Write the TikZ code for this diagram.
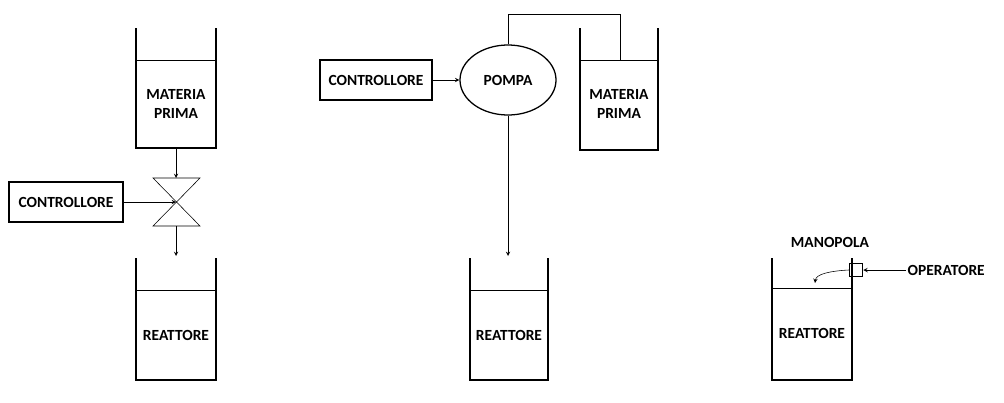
\documentclass[tikz,border=0pt]{standalone}
\usepackage{fontspec}
\setmainfont{Carlito}
\usetikzlibrary{positioning,shapes.geometric}
\tikzset{
  wall/.style={line width=1.6pt},
  label node/.style={font=\bfseries\fontsize{11}{13}\selectfont, inner sep=1pt, align=center},
  box node/.style={draw, line width=0.9pt, font=\bfseries\fontsize{11}{13}\selectfont, minimum height=1cm, inner sep=4pt},
  flow/.style={->, >=stealth, thin},
}
\newcommand{\tank}[5]{% x left, x right, top, liquid, bottom
  \draw[wall] (#1,#3) -- (#1,#5) -- (#2,#5) -- (#2,#3);
  \draw[thin] (#1,#4) -- (#2,#4);
}
\begin{document}
\begin{tikzpicture}[x=0.025cm,y=-0.025cm]
  \useasboundingbox (0,0) rectangle (1004,402);
  % Left
  \tank{136}{216}{28}{60}{148}
  \node[label node] (mp1) at (176,104) {MATERIA\\PRIMA};
  \coordinate (t1out) at (176,148);
  \coordinate (vtop) at (176,178);
  \coordinate (vc) at (176,202);
  \coordinate (vbot) at (176,226);
  \draw (153,178) -- (200,178) -- (153,226) -- (200,226) -- cycle;
  \draw[flow] (t1out) -- (vtop);
  \coordinate (r1in) at (176,256);
  \draw[flow] (vbot) -- (r1in);
  \node[box node, minimum width=2.85cm] (ctrl1) at (66,202) {CONTROLLORE};
  \draw[flow] (ctrl1) -- (vc);
  \tank{136}{216}{258}{290}{380}
  \node[label node] (r1) at (176,335) {REATTORE};
  % Middle
  \node[box node, minimum width=2.8cm] (ctrl2) at (376,80) {CONTROLLORE};
  \node[draw, ellipse, line width=0.9pt, minimum width=2.4cm, minimum height=1.75cm,
        font=\bfseries\fontsize{11}{13}\selectfont] (pompa) at (508,80) {POMPA};
  \draw[flow] (ctrl2) -- (pompa);
  \tank{580}{658}{28}{60}{150}
  \node[label node] (mp2) at (619,104) {MATERIA\\PRIMA};
  \coordinate (suck) at (620,60);
  \draw (pompa.north) -- (508,14) -- (620,14) -- (suck);
  \coordinate (r2in) at (508,256);
  \draw[flow] (pompa.south) -- (r2in);
  \tank{470}{548}{258}{290}{380}
  \node[label node] (r2) at (509,335) {REATTORE};
  % Right
  \tank{772}{852}{258}{288}{380}
  \node[label node] (r3) at (812,333) {REATTORE};
  \node[draw, line width=1.2pt, minimum size=0.32cm, inner sep=0pt] (knob) at (856,270) {};
  \node[label node] (man) at (830,242) {MANOPOLA};
  \node[label node, anchor=west] (op) at (906,270) {OPERATORE};
  \draw[flow] (op.west) -- (knob.east);
  \draw[flow] (knob.west) .. controls (830,271) and (816,274) .. (815,283);
\end{tikzpicture}
\end{document}
